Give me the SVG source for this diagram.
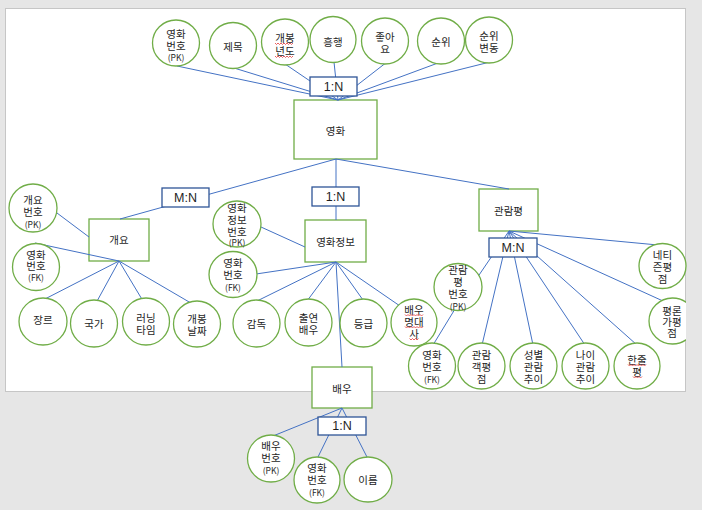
<svg xmlns="http://www.w3.org/2000/svg" xmlns:xlink="http://www.w3.org/1999/xlink" width="702" height="510" viewBox="0 0 702 510">
<style>
.pg{fill:#fff;stroke:#c6c6c6;stroke-width:1}
.e{fill:#fff;stroke:#70ad47;stroke-width:1.3}
.ent{fill:#fff;stroke:#70ad47;stroke-width:1.3}
.rel{fill:#fff;stroke:#2f5597;stroke-width:1.3}
.cn line{stroke:#4472c4;stroke-width:1}
text{font-family:"Noto Sans CJK KR","Noto Sans",sans-serif;font-size:10.5px;fill:#1e1e1e;text-anchor:middle;dominant-baseline:central}
tspan.s{font-size:8.5px}
text.r{font-family:"Liberation Sans",Arial,sans-serif;font-size:12.5px}
.sq{fill:none;stroke:#e23a3a;stroke-width:0.8}
</style>
<defs>
<clipPath id="pageclip"><rect x="0" y="0" width="686" height="510"/></clipPath>
<path id="zz18" class="sq" d="M0 0 l1.5 1.5 l1.5 -1.5 l1.5 1.5 l1.5 -1.5 l1.5 1.5 l1.5 -1.5 l1.5 1.5 l1.5 -1.5 l1.5 1.5 l1.5 -1.5 l1.5 1.5 l1.5 -1.5"/>
<path id="zz9" class="sq" d="M0 0 l1.5 1.5 l1.5 -1.5 l1.5 1.5 l1.5 -1.5 l1.5 1.5 l1.5 -1.5"/>
</defs>
<rect x="0" y="0" width="702" height="510" fill="#e6e6e6"/>
<rect class="pg" x="5.5" y="8.5" width="680" height="383"/>

<g id="entities">
<g id="movie"><rect class="ent" x="294" y="100" width="83" height="59"/><text x="335.5" y="130">영화</text></g>
<g id="overview"><rect class="ent" x="89" y="219" width="60" height="42"/><text x="119" y="239">개요</text></g>
<g id="movieinfo"><rect class="ent" x="305" y="220" width="61" height="42"/><text x="335.5" y="241">영화정보</text></g>
<g id="review"><rect class="ent" x="479" y="189" width="59" height="42"/><text x="508.5" y="210">관람평</text></g>
<g id="actor"><rect class="ent" x="312" y="367" width="60" height="41"/><text x="342" y="388">배우</text></g>
</g>

<g id="connectors" class="cn">
<line x1="177" y1="66" x2="338" y2="100"/>
<line x1="234" y1="68" x2="338" y2="100"/>
<line x1="285" y1="64" x2="338" y2="100"/>
<line x1="334" y1="62" x2="338" y2="100"/>
<line x1="387" y1="62" x2="338" y2="100"/>
<line x1="438" y1="63" x2="338" y2="100"/>
<line x1="490" y1="62" x2="338" y2="100"/>
<line x1="336" y1="159" x2="120" y2="219"/>
<line x1="336" y1="159" x2="336" y2="220"/>
<line x1="336" y1="159" x2="509" y2="189"/>
<line x1="57" y1="213" x2="89" y2="237"/>
<line x1="35" y1="243" x2="119" y2="261"/>
<line x1="119" y1="261" x2="43" y2="300"/>
<line x1="119" y1="261" x2="96" y2="303"/>
<line x1="119" y1="261" x2="146" y2="306"/>
<line x1="119" y1="261" x2="196" y2="306"/>
<line x1="261" y1="227" x2="305" y2="247"/>
<line x1="256" y1="274" x2="336" y2="262"/>
<line x1="336" y1="262" x2="257" y2="301"/>
<line x1="336" y1="262" x2="307" y2="301"/>
<line x1="336" y1="262" x2="363" y2="300"/>
<line x1="336" y1="262" x2="400" y2="306"/>
<line x1="336" y1="262" x2="342" y2="367"/>
<line x1="509" y1="231" x2="658" y2="245"/>
<line x1="509" y1="231" x2="663" y2="301"/>
<line x1="509" y1="231" x2="477" y2="278"/>
<line x1="509" y1="231" x2="482" y2="345"/>
<line x1="509" y1="231" x2="533" y2="345"/>
<line x1="509" y1="231" x2="585" y2="345"/>
<line x1="509" y1="231" x2="637" y2="345"/>
<line x1="455" y1="309" x2="433" y2="345"/>
<line x1="342" y1="408" x2="273" y2="436"/>
<line x1="342" y1="408" x2="317" y2="459"/>
<line x1="342" y1="408" x2="368" y2="459"/>
</g>

<g id="relationships">
<g id="rel-movie-attr"><rect class="rel" x="310" y="77" width="47" height="19"/><text class="r" x="333.5" y="86.5">1:N</text></g>
<g id="rel-overview"><rect class="rel" x="162" y="188" width="47" height="19"/><text class="r" x="185.5" y="197.5">M:N</text></g>
<g id="rel-movieinfo"><rect class="rel" x="312" y="187" width="47" height="19"/><text class="r" x="335.5" y="196.5">1:N</text></g>
<g id="rel-review"><rect class="rel" x="489" y="238" width="48" height="19"/><text class="r" x="513" y="247.5">M:N</text></g>
<g id="rel-actor"><rect class="rel" x="318" y="417" width="48" height="18"/><text class="r" x="342" y="426">1:N</text></g>
</g>

<g id="attributes">
<g id="a-movie-no"><ellipse class="e" cx="176" cy="43" rx="23.5" ry="23"/><text><tspan x="176" y="33">영화</tspan><tspan x="176" y="45">번호</tspan><tspan class="s" x="176" y="57">(PK)</tspan></text></g>
<g id="a-title"><ellipse class="e" cx="233" cy="45.5" rx="23.5" ry="23"/><text x="233" y="46">제목</text></g>
<g id="a-year"><ellipse class="e" cx="285" cy="42" rx="23.5" ry="23"/><text><tspan x="285" y="37">개봉</tspan><tspan x="285" y="50">년도</tspan></text><use xlink:href="#zz18" x="275" y="43"/><use xlink:href="#zz18" x="275" y="56"/></g>
<g id="a-hit"><ellipse class="e" cx="333" cy="39.5" rx="23" ry="23"/><text x="333" y="41">흥행</text></g>
<g id="a-like"><ellipse class="e" cx="385" cy="41" rx="23.5" ry="23"/><text><tspan x="385" y="36">좋아</tspan><tspan x="385" y="47.5">요</tspan></text></g>
<g id="a-rank"><ellipse class="e" cx="441" cy="41" rx="23.5" ry="23"/><text x="441" y="41.5">순위</text></g>
<g id="a-rankchg"><ellipse class="e" cx="489" cy="40" rx="23.5" ry="23"/><text><tspan x="489" y="35">순위</tspan><tspan x="489" y="47">변동</tspan></text></g>

<g id="a-ov-no"><ellipse class="e" cx="33" cy="208" rx="24" ry="24"/><text><tspan x="33" y="199">개요</tspan><tspan x="33" y="211">번호</tspan><tspan class="s" x="33" y="224">(PK)</tspan></text></g>
<g id="a-ov-mno"><ellipse class="e" cx="36" cy="267" rx="23.5" ry="23.5"/><text><tspan x="36" y="254">영화</tspan><tspan x="36" y="265">번호</tspan><tspan class="s" x="36" y="277">(FK)</tspan></text></g>
<g id="a-genre"><ellipse class="e" cx="43" cy="321.5" rx="24" ry="23.5"/><text x="43" y="319">장르</text></g>
<g id="a-country"><ellipse class="e" cx="94" cy="323.5" rx="23.5" ry="23.5"/><text x="94" y="323">국가</text></g>
<g id="a-runtime"><ellipse class="e" cx="146" cy="321.5" rx="23.5" ry="23.5"/><text><tspan x="146" y="317">러닝</tspan><tspan x="146" y="329">타임</tspan></text></g>
<g id="a-release"><ellipse class="e" cx="197" cy="324" rx="23.5" ry="23"/><text><tspan x="197" y="318">개봉</tspan><tspan x="197" y="330">날짜</tspan></text></g>

<g id="a-mi-no"><ellipse class="e" cx="237" cy="224" rx="24" ry="23"/><text><tspan x="237" y="207">영화</tspan><tspan x="237" y="219">정보</tspan><tspan x="237" y="231">번호</tspan><tspan class="s" x="237" y="242">(PK)</tspan></text></g>
<g id="a-mi-mno"><ellipse class="e" cx="233" cy="274.5" rx="24" ry="23"/><text><tspan x="233" y="262">영화</tspan><tspan x="233" y="274">번호</tspan><tspan class="s" x="233" y="287">(FK)</tspan></text></g>
<g id="a-director"><ellipse class="e" cx="256.5" cy="323.5" rx="23.5" ry="23.5"/><text x="256.5" y="323">감독</text></g>
<g id="a-cast"><ellipse class="e" cx="308.5" cy="322.5" rx="23.5" ry="23.5"/><text><tspan x="308.5" y="317">출연</tspan><tspan x="308.5" y="329">배우</tspan></text></g>
<g id="a-grade"><ellipse class="e" cx="363.5" cy="323" rx="23.5" ry="24"/><text x="363.5" y="323">등급</text></g>
<g id="a-quote"><ellipse class="e" cx="414" cy="322.5" rx="23" ry="23.5"/><text><tspan x="414" y="309">배우</tspan><tspan x="414" y="321">명대</tspan><tspan x="414" y="333">사</tspan></text><use xlink:href="#zz18" x="405" y="314.5"/><use xlink:href="#zz18" x="405" y="326.5"/><use xlink:href="#zz9" x="409.5" y="338.5"/></g>

<g id="a-netizen"><ellipse class="e" cx="662.5" cy="266" rx="23.5" ry="22.5"/><text><tspan x="662.5" y="254">네티</tspan><tspan x="662.5" y="266">즌평</tspan><tspan x="662.5" y="278">점</tspan></text></g>
<g id="a-critic" clip-path="url(#pageclip)"><ellipse class="e" cx="672.5" cy="321" rx="23.5" ry="23"/><text><tspan x="672" y="310">평론</tspan><tspan x="672" y="321">가평</tspan><tspan x="672" y="332">점</tspan></text></g>
<g id="a-rv-no"><ellipse class="e" cx="458" cy="287" rx="24" ry="23.5"/><text><tspan x="458" y="269">관람</tspan><tspan x="458" y="281">평</tspan><tspan x="458" y="293">번호</tspan><tspan class="s" x="458" y="306">(PK)</tspan></text></g>
<g id="a-rv-mno"><ellipse class="e" cx="432" cy="366" rx="23.5" ry="23"/><text><tspan x="432" y="354">영화</tspan><tspan x="432" y="366">번호</tspan><tspan class="s" x="432" y="379">(FK)</tspan></text></g>
<g id="a-audscore"><ellipse class="e" cx="481.5" cy="366" rx="23.5" ry="23"/><text><tspan x="481.5" y="354">관람</tspan><tspan x="481.5" y="366">객평</tspan><tspan x="481.5" y="378">점</tspan></text></g>
<g id="a-gender"><ellipse class="e" cx="533.5" cy="366" rx="23.5" ry="23"/><text><tspan x="533.5" y="354">성별</tspan><tspan x="533.5" y="366">관람</tspan><tspan x="533.5" y="378">추이</tspan></text></g>
<g id="a-age"><ellipse class="e" cx="585.5" cy="366" rx="23.5" ry="23"/><text><tspan x="585.5" y="354">나이</tspan><tspan x="585.5" y="366">관람</tspan><tspan x="585.5" y="378">추이</tspan></text></g>
<g id="a-oneline"><ellipse class="e" cx="637" cy="366" rx="23" ry="23"/><text><tspan x="637" y="359">한줄</tspan><tspan x="637" y="371">평</tspan></text><use xlink:href="#zz18" x="628" y="364.5"/><use xlink:href="#zz9" x="633" y="376.5"/></g>

<g id="a-ac-no"><ellipse class="e" cx="271" cy="458.5" rx="23.5" ry="23.5"/><text><tspan x="271" y="445">배우</tspan><tspan x="271" y="457">번호</tspan><tspan class="s" x="271" y="470">(PK)</tspan></text></g>
<g id="a-ac-mno"><ellipse class="e" cx="317" cy="480" rx="23" ry="23"/><text><tspan x="317" y="467">영화</tspan><tspan x="317" y="479">번호</tspan><tspan class="s" x="317" y="492">(FK)</tspan></text></g>
<g id="a-name"><ellipse class="e" cx="368" cy="479.5" rx="24" ry="22.5"/><text x="368" y="479">이름</text></g>
</g>
</svg>
